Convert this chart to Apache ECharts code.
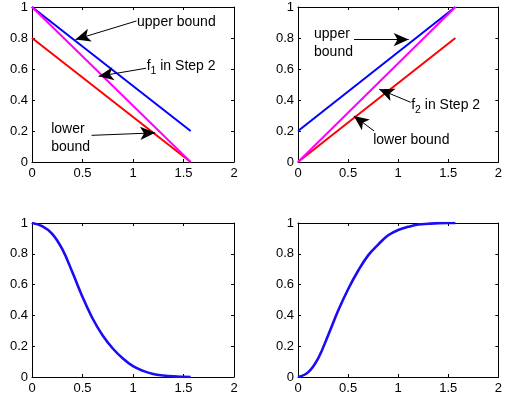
<!DOCTYPE html>
<html><head><meta charset="utf-8">
<script src="https://cdn.jsdelivr.net/npm/echarts@6/dist/echarts.min.js"></script>
<style>html,body{margin:0;padding:0;background:#fff}#c{width:505px;height:405px}</style>
</head><body><div id="c"></div>
<script>
// ---- data ----
const xEnds = [0, 1.5708];
const tlUpper = [1, 0.2];
const tlF1 = [1, 0];
const tlLower = [0.8, 0];
const trUpper = [0.2, 1];
const trF2 = [0, 1];
const trLower = [0, 0.8];
const curveX = [0, 0.1, 0.2, 0.3, 0.4, 0.5, 0.6, 0.7, 0.8, 0.9, 1.0, 1.1, 1.2, 1.3, 1.4, 1.5, 1.5708];
const fallVals = [1, 0.98, 0.93, 0.83, 0.68, 0.52, 0.38, 0.27, 0.185, 0.12, 0.07, 0.04, 0.02, 0.01, 0.004, 0.001, 0];
const riseVals = [0, 0.03, 0.12, 0.27, 0.43, 0.57, 0.69, 0.79, 0.86, 0.92, 0.955, 0.975, 0.99, 0.995, 0.999, 1, 1];
const xTicks = { min: 0, max: 2, interval: 0.5 };
const yTicks = { min: 0, max: 1, interval: 0.2 };

// annotations: text anchor [x,y], arrow from [x,y] to [x,y] (data units)
const tlNotes = [
  { text: 'upper bound', at: [1.04, 0.905], from: [1.035, 0.91], to: [0.43, 0.79] },
  { text: '{n|f}{s|1}{n| in Step 2}', at: [1.135, 0.62], from: [1.13, 0.605], to: [0.66, 0.553] },
  { text: 'lower\nbound', at: [0.19, 0.155], from: [0.59, 0.172], to: [1.22, 0.188] }
];
const trNotes = [
  { text: 'upper\nbound', at: [0.16, 0.77], from: [0.56, 0.79], to: [1.105, 0.79] },
  { text: '{n|f}{s|2}{n| in Step 2}', at: [1.13, 0.37], from: [1.125, 0.385], to: [0.81, 0.47] },
  { text: 'lower bound', at: [0.75, 0.14], from: [0.76, 0.2], to: [0.557, 0.297] }
];

// ---- layout ----
const FONT = '"Liberation Sans", Arial, Helvetica, sans-serif';
const grids = [
  { left: 32, top: 7, width: 202, height: 155 },
  { left: 298, top: 7, width: 203, height: 155 },
  { left: 32, top: 223, width: 202, height: 154 },
  { left: 298, top: 223, width: 203, height: 154 }
];
const xAxes = [], yAxes = [];
grids.forEach((g, i) => {
  const lineStyle = { color: '#000', width: 1 };
  const tick = { show: true, inside: true, length: 3, lineStyle: { color: '#000' } };
  xAxes.push({ type: 'value', gridIndex: i, position: 'bottom', ...xTicks,
    axisLine: { show: true, onZero: false, lineStyle }, axisTick: tick, splitLine: { show: false },
    axisLabel: { color: '#000', fontSize: 13, fontFamily: FONT, margin: 5, showMaxLabel: true, showMinLabel: true } });
  xAxes.push({ type: 'value', gridIndex: i, position: 'top', ...xTicks,
    axisLine: { show: true, onZero: false, lineStyle }, axisTick: tick, splitLine: { show: false },
    axisLabel: { show: false } });
  yAxes.push({ type: 'value', gridIndex: i, position: 'left', ...yTicks,
    axisLine: { show: true, onZero: false, lineStyle }, axisTick: tick, splitLine: { show: false },
    axisLabel: { color: '#000', fontSize: 13, fontFamily: FONT, margin: 4 } });
  yAxes.push({ type: 'value', gridIndex: i, position: 'right', ...yTicks,
    axisLine: { show: true, onZero: false, lineStyle }, axisTick: tick, splitLine: { show: false },
    axisLabel: { show: false } });
});

function pairs(xs, ys) { return xs.map((x, k) => [x, ys[k]]); }
function line(gi, xs, ys, color, w) {
  return { type: 'line', xAxisIndex: gi * 2, yAxisIndex: gi * 2, data: pairs(xs, ys),
    showSymbol: false, symbol: 'none', lineStyle: { color, width: w }, itemStyle: { color }, z: 3 };
}
function notes(gi, list) {
  return { type: 'line', xAxisIndex: gi * 2, yAxisIndex: gi * 2, data: [], silent: true, z: 5,
    markLine: { silent: true, symbol: ['none', 'arrow'], symbolSize: [10, 15], animation: false,
      lineStyle: { color: '#000', width: 1, type: 'solid' }, label: { show: false },
      data: list.map(n => [{ coord: n.from }, { coord: n.to }]) },
    markPoint: { silent: true, symbol: 'circle', symbolSize: 0, animation: false,
      data: list.map(n => ({ coord: n.at, value: 0,
        label: { show: true, position: [0, 0], align: 'left', verticalAlign: 'middle', formatter: n.text,
          color: '#000', fontSize: 14, lineHeight: 18, fontFamily: FONT,
          rich: { n: { fontSize: 14, fontFamily: FONT, color: '#000' },
                  s: { fontSize: 10.5, fontFamily: FONT, color: '#000', padding: [10, 0, 0, 0] } } } })) } };
}

const series = [
  line(0, xEnds, tlUpper, '#0000ff', 2),
  line(0, xEnds, tlLower, '#ff0000', 2),
  line(0, xEnds, tlF1, '#ff00ff', 2),
  notes(0, tlNotes),
  line(1, xEnds, trUpper, '#0000ff', 2),
  line(1, xEnds, trLower, '#ff0000', 2),
  line(1, xEnds, trF2, '#ff00ff', 2),
  notes(1, trNotes),
  line(2, curveX, fallVals, '#1a0cf5', 2.6),
  line(3, curveX, riseVals, '#1a0cf5', 2.6)
];
[8, 9].forEach(k => { series[k].smooth = 0.4; });

const chart = echarts.init(document.getElementById('c'), null, { renderer: 'canvas' });
chart.setOption({ animation: false, backgroundColor: '#fff', grid: grids, xAxis: xAxes, yAxis: yAxes, series });
</script></body></html>
